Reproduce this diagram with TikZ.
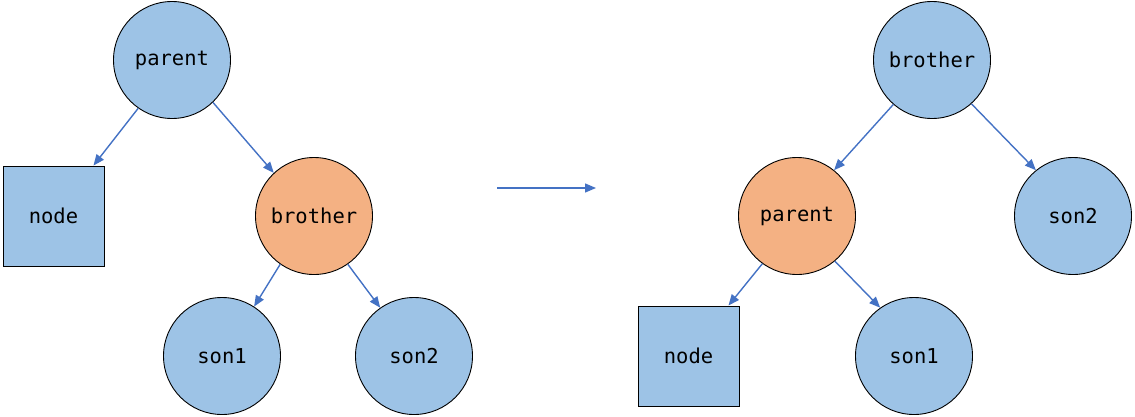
\documentclass[tikz,border=0pt]{standalone}
\usepackage{fontspec}
\setmonofont{DejaVu Sans Mono}
\usetikzlibrary{arrows.meta}
\definecolor{nodeblue}{HTML}{9DC3E6}
\definecolor{nodeorange}{HTML}{F4B183}
\definecolor{linkblue}{HTML}{4472C4}
\begin{document}
\begin{tikzpicture}[x=1pt,y=-1pt,
  every node/.style={font=\ttfamily\fontsize{20.5}{24}\selectfont, draw=black, line width=0.9pt, inner sep=0pt},
  bluecircle/.style={circle, fill=nodeblue, minimum size=117pt},
  orangecircle/.style={circle, fill=nodeorange, minimum size=117pt},
  bluesquare/.style={rectangle, fill=nodeblue, minimum width=101pt, minimum height=100pt},
  link/.style={draw=linkblue, line width=1.4pt, -{Triangle[length=11pt,width=9pt]}}]
\useasboundingbox (0,0) rectangle (1135,416);

% tree before the rotation
\node[bluecircle]   (p1) at (172,60)   {parent};
\node[bluesquare]   (n1) at (53.5,216) {node};
\node[orangecircle] (b1) at (314,216)  {brother};
\node[bluecircle]   (s11) at (222,356) {son1};
\node[bluecircle]   (s21) at (414,356) {son2};

\draw[link] (p1.-125) -- ([xshift=-11pt]n1.north east);
\draw[link] (p1.-46) -- (b1.133);
\draw[link] (b1.-125) -- (s11.57);
\draw[link] (b1.-55) -- (s21.125);

% transition arrow
\coordinate (a1) at (497,188);
\coordinate (a2) at (596,188);
\draw[link] (a1) -- (a2);

% tree after the rotation
\node[bluecircle]   (b2) at (932,60)    {brother};
\node[orangecircle] (p2) at (797,216)   {parent};
\node[bluecircle]   (s22) at (1073,216) {son2};
\node[bluesquare]   (n2) at (688.5,356) {node};
\node[bluecircle]   (s12) at (914,356)  {son1};

\draw[link] (b2.-131) -- (p2.51);
\draw[link] (b2.-48) -- (s22.129);
\draw[link] (p2.-126) -- ([xshift=-11pt]n2.north east);
\draw[link] (p2.-50) -- (s12.125);
\end{tikzpicture}
\end{document}
